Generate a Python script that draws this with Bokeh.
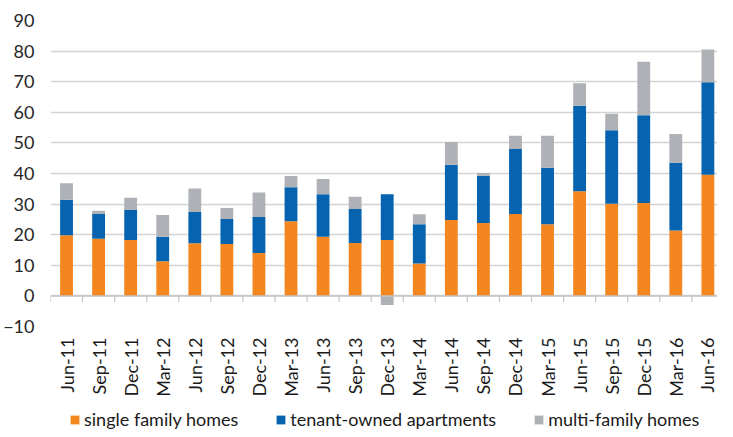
import numpy as np
from bokeh.plotting import figure
from bokeh.layouts import column
from bokeh.models import Range1d, FixedTicker, Span, Legend, LegendItem, ColumnDataSource
from bokeh.embed import file_html
from bokeh.resources import INLINE

categories = ["Jun-11", "Sep-11", "Dec-11", "Mar-12", "Jun-12", "Sep-12", "Dec-12",
              "Mar-13", "Jun-13", "Sep-13", "Dec-13", "Mar-14", "Jun-14", "Sep-14",
              "Dec-14", "Mar-15", "Jun-15", "Sep-15", "Dec-15", "Mar-16", "Jun-16"]
single_family = [19.8, 18.7, 18.3, 11.3, 17.2, 17.0, 14.0, 24.4, 19.3, 17.3, 18.3,
                 10.6, 24.8, 23.8, 26.8, 23.4, 34.2, 30.1, 30.4, 21.4, 39.6]
tenant_owned = [11.6, 8.1, 9.8, 8.0, 10.2, 8.1, 11.8, 11.1, 13.9, 11.1, 14.9,
                12.8, 18.1, 15.5, 21.2, 18.5, 27.9, 24.0, 28.6, 22.1, 30.2]
multi_family = [5.4, 1.0, 4.0, 7.1, 7.7, 3.6, 8.0, 3.7, 5.0, 4.0, -3.0,
                3.3, 7.4, 0.9, 4.3, 10.4, 7.4, 5.4, 17.5, 9.4, 10.7]
y_ticks = [-10, 0, 10, 20, 30, 40, 50, 60, 70, 80, 90]
series_names = ["single family homes", "tenant-owned apartments", "multi-family homes"]
colors = ["#F3861F", "#0563B0", "#AEB2B6"]

FONT = "Lato"
n = len(categories)
x = np.arange(n)

series = [np.array(single_family), np.array(tenant_owned), np.array(multi_family)]
pos_base = np.zeros(n)
neg_base = np.zeros(n)

p = figure(width=717, height=399, output_backend="svg", toolbar_location=None,
           x_range=Range1d(-0.5, 20.3), y_range=Range1d(-10, 90),
           min_border_left=45, min_border_right=0, min_border_top=20,
           min_border_bottom=0)
p.outline_line_color = None

# legend strip (separate figure so the legend sits below the rotated axis labels)
p2 = figure(width=717, height=31, output_backend="svg", toolbar_location=None,
            x_range=Range1d(-0.5, 20.3), y_range=Range1d(1000, 1001),
            x_axis_location=None, y_axis_location=None,
            min_border_left=0, min_border_right=0, min_border_top=0, min_border_bottom=0)
p2.outline_line_color = None
p2.grid.visible = False

legend_renderers = []
for vals, col in zip(series, colors):
    bottom = np.where(vals >= 0, pos_base, neg_base)
    top = bottom + vals
    pos_base = np.where(vals >= 0, top, pos_base)
    neg_base = np.where(vals < 0, top, neg_base)
    src = ColumnDataSource(dict(x=x, bottom=bottom, top=top))
    p.vbar(x="x", bottom="bottom", top="top", width=0.4, source=src,
           fill_color=col, line_color=None)
    r2 = p2.vbar(x="x", bottom="bottom", top="top", width=0.4, source=src,
                 fill_color=col, line_color=None)
    legend_renderers.append(r2)

p.xgrid.visible = False
p.ygrid.ticker = FixedTicker(ticks=y_ticks)
p.ygrid.grid_line_color = "#D4D4D4"
p.ygrid.grid_line_width = 1.5
p.ygrid.level = "underlay"

p.add_layout(Span(location=0, dimension="width", line_color="#C4C4C4", line_width=1.5))
xb = np.arange(n + 1) - 0.5
p.segment(x0=xb, y0=np.zeros(n + 1), x1=xb, y1=np.full(n + 1, -2.0),
          line_color="#C4C4C4", line_width=1.2)

for ax in (p.xaxis, p.yaxis):
    ax.axis_line_color = None
    ax.major_tick_line_color = None
    ax.minor_tick_line_color = None
    ax.major_tick_out = 0
    ax.major_tick_in = 0
    ax.minor_tick_out = 0
    ax.minor_tick_in = 0
    ax.major_label_text_font = FONT
    ax.major_label_text_font_size = "18px"

p.yaxis.ticker = FixedTicker(ticks=y_ticks)
p.yaxis.major_label_standoff = 16
p.yaxis.major_label_text_color = "#262626"

p.xaxis.ticker = FixedTicker(ticks=list(range(n)))
p.xaxis.major_label_overrides = {i: c for i, c in enumerate(categories)}
p.xaxis.major_label_orientation = np.pi / 2
p.xaxis.major_label_standoff = 11
p.xaxis.major_label_text_color = "#1a1a1a"

legend = Legend(items=[LegendItem(label=nm, renderers=[r]) for nm, r in zip(series_names, legend_renderers)],
                orientation="horizontal", location=(19, 0),
                glyph_width=11, glyph_height=11, label_standoff=4, spacing=37,
                padding=0, margin=0, border_line_color=None,
                label_text_font=FONT, label_text_font_size="18px",
                label_text_color="#1a1a1a", background_fill_alpha=0)
p2.add_layout(legend, "center")

layout = column(p, p2, spacing=0)
open("out.html", "w").write(file_html(layout, INLINE))
